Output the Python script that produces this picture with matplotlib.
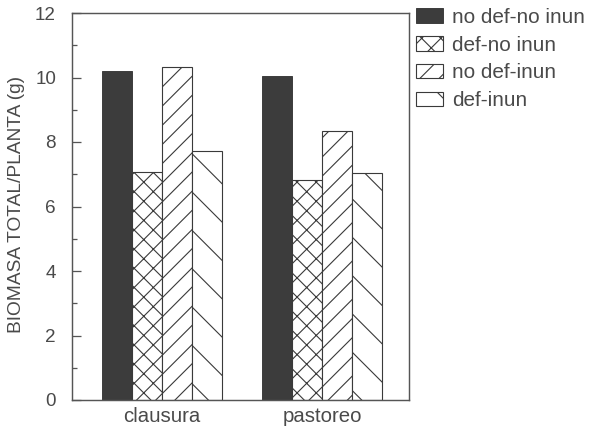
# Biomasa total por planta - clausura vs pastoreo
import numpy as np
import matplotlib.pyplot as plt

# Data
groups = ['clausura', 'pastoreo']
treatments = ['no def-no inun', 'def-no inun', 'no def-inun', 'def-inun']
no_def_no_inun = [10.2, 10.05]
def_no_inun = [7.08, 6.83]
no_def_inun = [10.33, 8.35]
def_inun = [7.73, 7.05]

# high dpi so the hatch lines come out sparse like the scan
DPI = 230
plt.rcParams['font.family'] = ['Liberation Sans', 'DejaVu Sans']
plt.rcParams['hatch.linewidth'] = 0.35
plt.rcParams['hatch.color'] = '#3a3a3a'
txt = '#4a4a4a'
edge = '#555555'

fig = plt.figure(figsize=(595 / DPI, 427 / DPI), dpi=DPI)
ax = fig.add_axes([72 / 595, 27 / 427, (409 - 72) / 595, (400 - 13) / 427])

x = np.arange(len(groups))
w = 0.187
series = [no_def_no_inun, def_no_inun, no_def_inun, def_inun]
hatches = [None, 'xxxx', '////', '\\\\']
for i, (vals, lab, h) in enumerate(zip(series, treatments, hatches)):
    pos = x + (i - 1.5) * w
    if h is None:
        ax.bar(pos, vals, w, color='#3c3c3c', edgecolor='#3c3c3c', linewidth=0.3, label=lab)
    else:
        ax.bar(pos, vals, w, color='white', edgecolor='#3a3a3a', hatch=h, linewidth=0.35, label=lab)

ax.set_xlim(-0.558, 1.54)
ax.set_ylim(0, 12)
ax.set_yticks(np.arange(0, 13, 2))
ax.set_yticks(np.arange(1, 12, 2), minor=True)
ax.set_xticks(x)
ax.set_xticklabels(groups)
ax.tick_params(axis='x', length=0, pad=2.2, labelsize=6.4, labelcolor=txt)
ax.tick_params(axis='y', which='major', direction='in', length=2.7, width=0.4, color=edge,
               pad=5.0, labelsize=5.9, labelcolor=txt)
ax.tick_params(axis='y', which='minor', direction='in', length=1.5, width=0.4, color=edge)
for s in ax.spines.values():
    s.set_linewidth(0.45)
    s.set_color(edge)

ax.set_ylabel('BIOMASA TOTAL/PLANTA (g)', fontsize=6.0, color=txt)
ax.yaxis.set_label_coords(-47 / 337, 0.505)

leg = fig.legend(loc='upper left', bbox_to_anchor=(416 / 595, 1 - 8 / 427), frameon=False,
                 fontsize=6.5, handlelength=1.3, handleheight=0.7, handletextpad=0.45,
                 labelspacing=0.42, borderpad=0, borderaxespad=0)
for t in leg.get_texts():
    t.set_color(txt)

fig.savefig('out.png', dpi=DPI)
